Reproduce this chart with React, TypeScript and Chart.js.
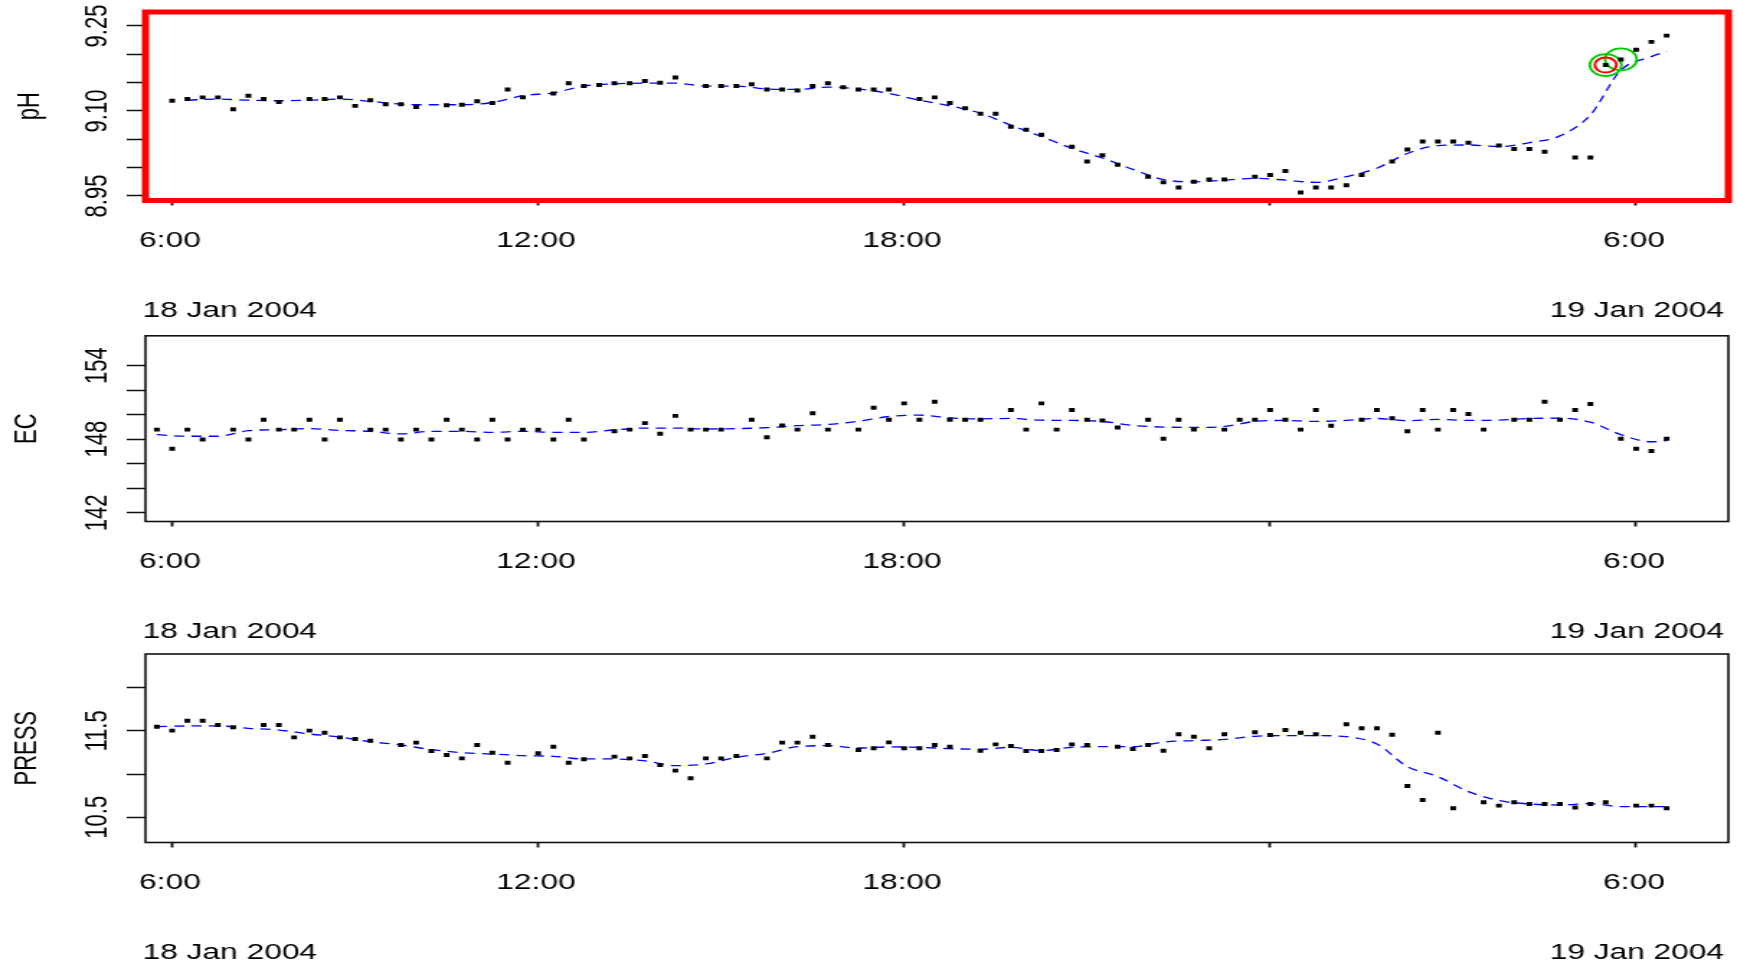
import { useEffect, useRef } from 'react';
import { Chart, registerables } from 'chart.js';

Chart.register(...registerables);

// ---------------- data ----------------
// 15-minute readings starting 05:45, 18 Jan 2004 (x = hours since 18 Jan 00:00)
const FIRST_SAMPLE_HOUR = 5.75;
const SAMPLE_STEP_HOURS = 0.25;

const PH_VALUES = [
  null, 9.118, 9.121, 9.124, 9.124, 9.103, 9.127, 9.121, 9.116, null,
  9.121, 9.121, 9.124, 9.109, 9.119, 9.112, 9.112, 9.107, null, 9.110,
  9.111, 9.117, 9.114, 9.138, 9.124, null, 9.131, 9.149, 9.144, 9.146,
  9.149, 9.149, 9.153, 9.150, 9.159, null, 9.144, 9.144, 9.144, 9.147,
  9.138, 9.138, 9.136, 9.144, 9.149, 9.142, 9.138, 9.138, 9.138, null,
  9.121, 9.124, 9.114, 9.105, 9.095, 9.095, 9.072, 9.067, 9.058, null,
  9.037, 9.011, 9.022, 9.005, null, 8.984, 8.974, 8.965, 8.975, 8.979,
  8.979, null, 8.984, 8.987, 8.994, 8.956, 8.965, 8.965, 8.969, 8.987,
  null, 9.011, 9.032, 9.046, 9.046, 9.046, 9.044, null, 9.039, 9.033,
  9.033, 9.028, null, 9.018, 9.018, 9.181, 9.191, 9.208, 9.222, 9.233,
];

const EC_VALUES = [
  148.78, 147.22, 148.78, 147.97, null, 148.78, 147.97, 149.58, 148.78, 148.78,
  149.58, 147.97, 149.58, null, 148.78, 148.78, 147.97, 148.78, 147.97, 149.58,
  148.78, 147.97, 149.58, 147.97, 148.78, 148.78, 147.97, 149.58, 147.97, null,
  148.64, 148.78, 149.31, 148.45, 149.90, 148.78, 148.78, 148.78, null, 149.58,
  148.16, 149.12, 148.78, 150.12, 148.78, null, 148.78, 150.57, 149.58, 150.92,
  149.58, 151.05, 149.58, 149.58, 149.58, null, 150.38, 148.78, 150.92, 148.78,
  150.38, 149.58, 149.53, 148.96, null, 149.58, 148.03, 149.58, 148.78, null,
  148.78, 149.58, 149.58, 150.38, 149.58, 148.78, 150.38, 149.10, null, 149.58,
  150.38, 149.71, 148.64, 150.38, 148.78, 150.38, 150.06, 148.78, null, 149.58,
  149.58, 151.05, 149.58, 150.38, 150.87, null, 148.03, 147.22, 147.04, 148.03,
];

const PRESS_VALUES = [
  11.549, 11.503, 11.618, 11.618, 11.568, 11.541, null, 11.568, 11.568, 11.425,
  11.503, 11.479, 11.425, 11.406, 11.387, null, 11.337, 11.364, 11.267, 11.221,
  11.182, 11.337, 11.248, 11.132, null, 11.240, 11.317, 11.132, 11.171, null,
  11.202, 11.182, 11.209, 11.105, 11.040, 10.951, 11.182, 11.182, 11.209, null,
  11.182, 11.364, 11.364, 11.433, 11.337, null, 11.279, 11.298, 11.367, 11.298,
  11.298, 11.337, 11.317, null, 11.271, 11.344, 11.325, 11.267, 11.267, 11.279,
  11.344, 11.337, null, 11.317, 11.290, 11.337, 11.271, 11.460, 11.433, 11.298,
  11.460, null, 11.483, 11.452, 11.510, 11.479, 11.460, null, 11.576, 11.530,
  11.530, 11.456, 10.862, 10.700, 11.479, 10.604, null, 10.673, 10.635, 10.673,
  10.654, 10.654, 10.654, 10.612, 10.654, 10.673, null, 10.635, 10.635, 10.604,
];

// smoothed trend (blue dashed line), read at every second reading plus the last one
const TREND_SAMPLE_INDEX = [
  0, 2, 4, 6, 8, 10, 12, 14, 16, 18, 20, 22, 24, 26, 28, 30, 32, 34, 36, 38,
  40, 42, 44, 46, 48, 50, 52, 54, 56, 58, 60, 62, 64, 66, 68, 70, 72, 74, 76, 78,
  80, 82, 84, 86, 88, 90, 92, 94, 96, 98, 99,
];

const PH_TREND = [
  null, 9.119, 9.121, 9.119, 9.118, 9.119, 9.121, 9.117, 9.112, 9.111,
  9.111, 9.115, 9.127, 9.132, 9.144, 9.148, 9.149, 9.149, 9.144, 9.144,
  9.139, 9.138, 9.142, 9.139, 9.131, 9.119, 9.109, 9.096, 9.075, 9.055,
  9.034, 9.017, 8.997, 8.979, 8.975, 8.978, 8.981, 8.978, 8.974, 8.984,
  8.999, 9.025, 9.039, 9.040, 9.037, 9.044, 9.056, 9.093, 9.172, 9.196,
  9.205,
];

const EC_TREND = [
  148.37, 148.24, 148.24, 148.70, 148.78, 148.86, 148.72, 148.64, 148.43, 148.64,
  148.64, 148.56, 148.64, 148.56, 148.56, 148.75, 148.91, 148.91, 148.83, 148.86,
  148.94, 149.10, 149.20, 149.47, 149.85, 149.96, 149.74, 149.66, 149.69, 149.55,
  149.53, 149.45, 149.12, 148.99, 148.96, 149.04, 149.45, 149.53, 149.45, 149.53,
  149.69, 149.50, 149.61, 149.53, 149.55, 149.69, 149.71, 149.39, 148.37, 147.79,
  147.89,
];

const PRESS_TREND = [
  11.549, 11.557, 11.557, 11.530, 11.510, 11.464, 11.429, 11.375, 11.337, 11.283,
  11.248, 11.233, 11.213, 11.206, 11.175, 11.175, 11.152, 11.098, 11.117, 11.194,
  11.240, 11.317, 11.329, 11.302, 11.314, 11.310, 11.294, 11.287, 11.310, 11.271,
  11.310, 11.317, 11.317, 11.371, 11.387, 11.402, 11.437, 11.445, 11.445, 11.433,
  11.348, 11.086, 10.970, 10.797, 10.693, 10.654, 10.642, 10.658, 10.623, 10.623,
  10.623,
];

// highlighted pH readings (rings)
const PH_GREEN_RING_INDEX = [95, 96];
const PH_RED_RING_INDEX = [95];

// axes
const X_MIN_HOUR = 5.563;
const X_MAX_HOUR = 31.512;
const X_TICK_HOURS = [6, 12, 18, 24, 30];
const X_TICK_LABELS = ['6:00', '12:00', '18:00', '', '6:00'];
const DATE_LEFT = '18 Jan 2004';
const DATE_RIGHT = '19 Jan 2004';

const PH_TICKS = [8.95, 9.0, 9.05, 9.1, 9.15, 9.2, 9.25];
const PH_TICK_LABELS = ['8.95', '', '', '9.10', '', '', '9.25'];
const EC_TICKS = [142, 144, 146, 148, 150, 152, 154];
const EC_TICK_LABELS = ['142', '', '', '148', '', '', '154'];
const PRESS_TICKS = [10.5, 11.0, 11.5, 12.0];
const PRESS_TICK_LABELS = ['10.5', '', '11.5', ''];

// ---------------- layout ----------------
const FONT = '"Liberation Sans", Arial, Helvetica, sans-serif';
const INNER_W = 1206; // drawing width, shown stretched to the page width
const DISPLAY_W = 1737;
const PLOT_TOP = 12;
const PLOT_BOTTOM = 200.5;
const PLOT_LEFT = 101;
const PAD_RIGHT = 6;

type Panel = {
  title: string;
  values: (number | null)[];
  trend: (number | null)[];
  yMin: number;
  yMax: number;
  ticks: number[];
  tickLabels: string[];
  labelPad: number;
  titlePad: number;
  boxColor: string;
  boxWidth: number;
  height: number;
  rings: boolean;
};

const PANELS: Panel[] = [
  {
    title: 'pH', values: PH_VALUES, trend: PH_TREND, yMin: 8.942, yMax: 9.2747,
    ticks: PH_TICKS, tickLabels: PH_TICK_LABELS, labelPad: -1.4, titlePad: 7.5,
    boxColor: '#ff0000', boxWidth: 5, height: 321, rings: true,
  },
  {
    title: 'EC', values: EC_VALUES, trend: EC_TREND, yMin: 141.29, yMax: 156.43,
    ticks: EC_TICKS, tickLabels: EC_TICK_LABELS, labelPad: 1.6, titlePad: 5.5,
    boxColor: '#111111', boxWidth: 1.6, height: 321, rings: false,
  },
  {
    title: 'PRESS', values: PRESS_VALUES, trend: PRESS_TREND, yMin: 10.208, yMax: 12.39,
    ticks: PRESS_TICKS, tickLabels: PRESS_TICK_LABELS, labelPad: -1.4, titlePad: 5.5,
    boxColor: '#111111', boxWidth: 1.6, height: 322, rings: false,
  },
];

const hourOf = (i: number) => FIRST_SAMPLE_HOUR + i * SAMPLE_STEP_HOURS;

const boxPlugin = {
  id: 'plotBox',
  afterDatasetsDraw(chart: any, _args: any, opts: any) {
    const { ctx, chartArea: a } = chart;
    ctx.save();
    ctx.strokeStyle = opts.color;
    ctx.lineWidth = opts.width;
    ctx.strokeRect(a.left, a.top, a.right - a.left, a.bottom - a.top);
    ctx.restore();
  },
};

const dateLabelPlugin = {
  id: 'dateLabels',
  afterDraw(chart: any) {
    const { ctx, chartArea: a } = chart;
    ctx.save();
    ctx.font = `22px ${FONT}`;
    ctx.fillStyle = '#000';
    ctx.textBaseline = 'middle';
    const y = a.bottom + 110.5;
    ctx.textAlign = 'left';
    ctx.fillText(DATE_LEFT, a.left - 2, y);
    ctx.textAlign = 'right';
    ctx.fillText(DATE_RIGHT, a.right - 3, y);
    ctx.restore();
  },
};

function buildConfig(p: Panel): any {
  const points = p.values
    .map((v, i) => (v == null ? null : { x: hourOf(i), y: v }))
    .filter((d) => d !== null);
  const trend = TREND_SAMPLE_INDEX.map((idx, k) => ({ x: hourOf(idx), y: p.trend[k] }));
  const datasets: any[] = [
    {
      label: p.title,
      data: points,
      showLine: false,
      pointStyle: 'rect',
      pointRadius: 2.8,
      pointBackgroundColor: '#000',
      pointBorderWidth: 0,
    },
  ];
  if (p.rings) {
    datasets.push({
      label: 'red ring',
      data: PH_RED_RING_INDEX.map((i) => ({ x: hourOf(i), y: p.values[i] })),
      showLine: false,
      pointStyle: 'circle',
      pointRadius: 7.5,
      pointBackgroundColor: 'rgba(0,0,0,0)',
      pointBorderColor: '#ff0000',
      pointBorderWidth: 2,
    });
    datasets.push({
      label: 'green ring',
      data: PH_GREEN_RING_INDEX.map((i) => ({ x: hourOf(i), y: p.values[i] })),
      showLine: false,
      pointStyle: 'circle',
      pointRadius: 11,
      pointBackgroundColor: 'rgba(0,0,0,0)',
      pointBorderColor: '#00cc00',
      pointBorderWidth: 1.8,
    });
  }
  datasets.push({
    label: p.title + ' trend',
    data: trend,
    showLine: true,
    spanGaps: true,
    borderColor: '#0000ff',
    borderWidth: 1.3,
    borderDash: [7, 5],
    pointRadius: 0,
    cubicInterpolationMode: 'monotone',
    fill: false,
  });

  const font = { family: FONT, size: 22 };
  return {
    type: 'scatter',
    data: { datasets },
    plugins: [boxPlugin, dateLabelPlugin],
    options: {
      responsive: false,
      animation: false,
      devicePixelRatio: 1,
      events: [],
      layout: {
        autoPadding: false,
        padding: { top: PLOT_TOP, right: PAD_RIGHT, left: 0, bottom: 0 },
      },
      plugins: {
        legend: { display: false },
        tooltip: { enabled: false },
        plotBox: { color: p.boxColor, width: p.boxWidth },
      },
      scales: {
        x: {
          type: 'linear',
          position: 'bottom',
          min: X_MIN_HOUR,
          max: X_MAX_HOUR,
          afterFit: (s: any) => {
            s.height = p.height - PLOT_BOTTOM;
          },
          afterBuildTicks: (s: any) => {
            s.ticks = X_TICK_HOURS.map((v) => ({ value: v }));
          },
          ticks: {
            autoSkip: false,
            minRotation: 0,
            maxRotation: 0,
            padding: 22,
            labelOffset: -1.5,
            font,
            color: '#000',
            callback: (_v: any, i: number) => X_TICK_LABELS[i] ?? '',
          },
          grid: {
            drawOnChartArea: false,
            drawTicks: true,
            tickLength: 5,
            tickColor: '#111',
            tickWidth: 1.8,
          },
          border: { display: false },
        },
        y: {
          type: 'linear',
          position: 'left',
          min: p.yMin,
          max: p.yMax,
          afterFit: (s: any) => {
            s.width = PLOT_LEFT;
          },
          afterBuildTicks: (s: any) => {
            s.ticks = p.ticks.map((v) => ({ value: v }));
          },
          ticks: {
            autoSkip: false,
            minRotation: 90,
            maxRotation: 90,
            crossAlign: 'center',
            padding: p.labelPad,
            font,
            color: '#000',
            callback: (_v: any, i: number) => p.tickLabels[i] ?? '',
          },
          grid: {
            drawOnChartArea: false,
            drawTicks: true,
            tickLength: 13,
            tickColor: '#111',
            tickWidth: 1.5,
          },
          border: { display: false },
          title: {
            display: true,
            text: p.title,
            font,
            color: '#000',
            padding: { top: p.titlePad, bottom: 0 },
          },
        },
      },
    },
  };
}

function PanelCanvas({ panel }: { panel: Panel }) {
  const ref = useRef<HTMLCanvasElement | null>(null);
  useEffect(() => {
    if (!ref.current) return;
    const chart = new Chart(ref.current, buildConfig(panel));
    return () => chart.destroy();
  }, [panel]);
  return (
    <canvas
      ref={ref}
      width={INNER_W}
      height={panel.height}
      style={{ display: 'block', width: `${DISPLAY_W}px`, height: `${panel.height}px` }}
    />
  );
}

export default function App() {
  useEffect(() => {
    document.body.style.overflow = 'hidden';
  }, []);
  return (
    <div
      style={{
        position: 'absolute',
        left: 0,
        top: 0,
        width: `${DISPLAY_W}px`,
        height: '964px',
        background: '#fff',
        overflow: 'hidden',
      }}
    >
      {PANELS.map((p) => (
        <PanelCanvas key={p.title} panel={p} />
      ))}
    </div>
  );
}
